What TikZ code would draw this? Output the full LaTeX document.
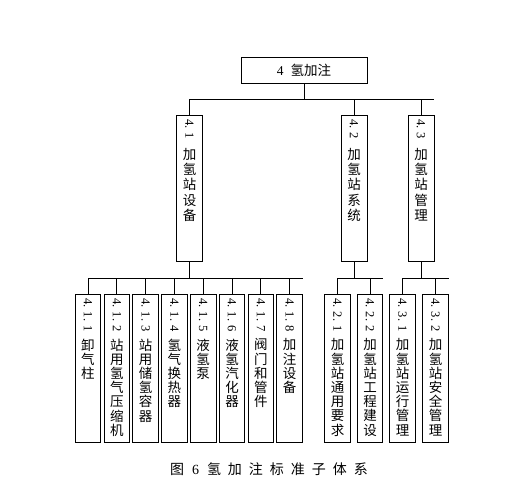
\documentclass[tikz,border=0pt]{standalone}
\usepackage{fontspec}
\usepackage{graphicx}
\setmainfont{Liberation Serif}
\newfontfamily\cjk{Noto Sans CJK SC}
\newcommand\vt[5]{\parbox[c][#1][t]{22pt}{\centering\fontsize{12.5}{#5}\selectfont\lineskip=0pt\rotatebox{-90}{#2}\\[#3]\fontsize{13.5}{#5}\selectfont\cjk #4}}
\begin{document}
\begin{tikzpicture}[x=1pt,y=-1pt,line width=0.8pt,
  rootbox/.style={draw,inner sep=0,minimum width=126pt,minimum height=26pt,font=\fontsize{13.5}{15}\selectfont},
  lone/.style={draw,inner sep=0,minimum width=26pt,minimum height=146pt,anchor=north},
  ltwo/.style={draw,inner sep=0,minimum width=25.5pt,minimum height=148pt,anchor=north}]
\useasboundingbox (0,0) rectangle (515,493);
\node[rootbox] (root) at (304,70) {4\hspace{7pt}{\cjk 氢加注}};
\node[lone] (n41) at (189.5,115) {\vt{138pt}{4. 1}{9pt}{加\\氢\\站\\设\\备}{15.3pt}};
\node[lone] (n42) at (354,115) {\vt{138pt}{4. 2}{9pt}{加\\氢\\站\\系\\统}{15.3pt}};
\node[lone] (n43) at (421,115) {\vt{138pt}{4. 3}{9pt}{加\\氢\\站\\管\\理}{15.3pt}};
\node[ltwo] (n411) at (88,294) {\vt{140pt}{4. 1. 1}{7pt}{卸\\气\\柱}{14.2pt}};
\node[ltwo] (n412) at (116.8,294) {\vt{140pt}{4. 1. 2}{7pt}{站\\用\\氢\\气\\压\\缩\\机}{14.2pt}};
\node[ltwo] (n413) at (145.6,294) {\vt{140pt}{4. 1. 3}{7pt}{站\\用\\储\\氢\\容\\器}{14.2pt}};
\node[ltwo] (n414) at (174.4,294) {\vt{140pt}{4. 1. 4}{7pt}{氢\\气\\换\\热\\器}{14.2pt}};
\node[ltwo] (n415) at (203.2,294) {\vt{140pt}{4. 1. 5}{7pt}{液\\氢\\泵}{14.2pt}};
\node[ltwo] (n416) at (232,294) {\vt{140pt}{4. 1. 6}{7pt}{液\\氢\\汽\\化\\器}{14.2pt}};
\node[ltwo] (n417) at (260.8,294) {\vt{140pt}{4. 1. 7}{7pt}{阀\\门\\和\\管\\件}{14.2pt}};
\node[ltwo] (n418) at (289.6,294) {\vt{140pt}{4. 1. 8}{7pt}{加\\注\\设\\备}{14.2pt}};
\node[ltwo] (n421) at (337.5,294) {\vt{140pt}{4. 2. 1}{7pt}{加\\氢\\站\\通\\用\\要\\求}{14.2pt}};
\node[ltwo] (n422) at (370,294) {\vt{140pt}{4. 2. 2}{7pt}{加\\氢\\站\\工\\程\\建\\设}{14.2pt}};
\node[ltwo] (n431) at (402.5,294) {\vt{140pt}{4. 3. 1}{7pt}{加\\氢\\站\\运\\行\\管\\理}{14.2pt}};
\node[ltwo] (n432) at (435.5,294) {\vt{140pt}{4. 3. 2}{7pt}{加\\氢\\站\\安\\全\\管\\理}{14.2pt}};
\node[font=\fontsize{14}{16}\selectfont] (cap) at (269,469) {{\cjk 图}\hspace{8pt}6\hspace{8pt}{\cjk 氢\hspace{7pt}加\hspace{7pt}注\hspace{7pt}标\hspace{7pt}准\hspace{7pt}子\hspace{7pt}体\hspace{7pt}系}};
% level 1 connectors
\coordinate (ba) at (189.5,99);
\draw (root.south) -- (root.south |- ba);
\draw (n41.north) -- (n41.north |- ba) -- (n43.north east |- ba);
\draw (n42.north) -- (n42.north |- ba);
\draw (n43.north) -- (n43.north |- ba);
% level 2 connectors
\coordinate (bb) at (0,278);
\draw (n41.south) -- (n41.south |- bb);
\draw (n411.north) -- (n411.north |- bb) -- (n418.north east |- bb);
\foreach \n in {n412,n413,n414,n415,n416,n417,n418}{\draw (\n.north) -- (\n.north |- bb);}
\draw (n42.south) -- (n42.south |- bb);
\draw (n421.north) -- (n421.north |- bb) -- (n422.north east |- bb);
\draw (n422.north) -- (n422.north |- bb);
\draw (n43.south) -- (n43.south |- bb);
\draw (n431.north) -- (n431.north |- bb) -- (n432.north east |- bb);
\draw (n432.north) -- (n432.north |- bb);
\end{tikzpicture}
\end{document}
